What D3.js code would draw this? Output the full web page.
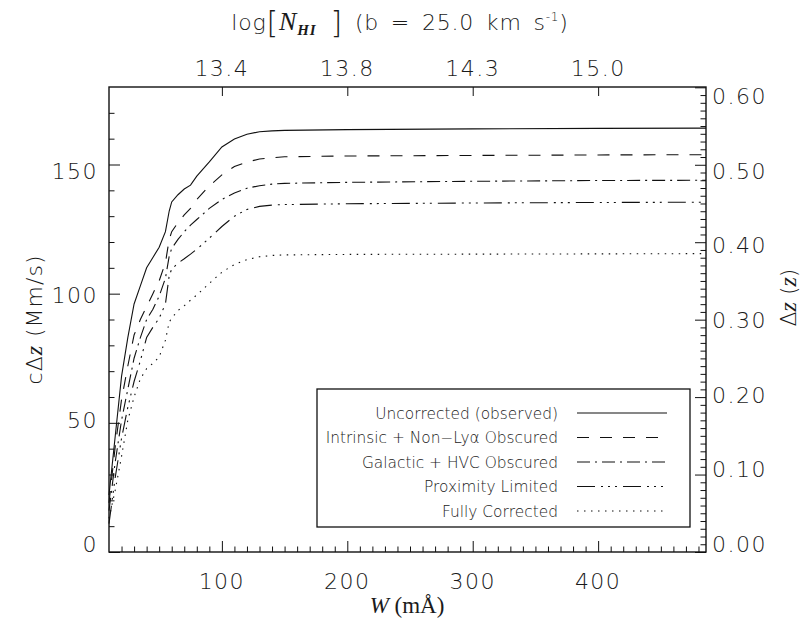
<!DOCTYPE html>
<html><head><meta charset="utf-8">
<script src="https://cdn.jsdelivr.net/npm/d3@7"></script>
<style>
body{margin:0;background:#fff;}
svg text{font-family:"DejaVu Sans",sans-serif;font-weight:200;fill:#1a1a1a;}
.serif{font-family:"Liberation Serif","DejaVu Serif",serif !important;}
</style></head><body>
<svg id="chart" width="807" height="632"></svg>
<script>
// ---- data ----
const widths = [10,15,20,25,30,35,40,45,50,55,58,60,65,70,75,80,90,100,110,120,130,140,150,200,300,400,486];
const uncorrected = [22,45,68,83,96,103,110,114,118,124,132,135.5,138.3,140.5,142,145.5,151,156.8,159.9,161.7,162.7,163,163.2,163.5,163.8,164,164.1];
const intrinsic  = [19,41,59,72,84,90,95,100,105,112,121,124,127.5,130.5,133,136.5,141.7,146,149.2,151,152.1,152.6,153,153.3,153.5,153.7,153.8];
const galactic   = [16,35,51,63,75,83,90,94,99,106,114.5,117.5,121,124,126.5,128.7,133,136.5,139,140.8,141.8,142.4,142.7,143.1,143.5,143.8,143.9];
const proximity  = [11,29,44,56,66,74,83,87,90.5,96,107,109.5,111.8,113.5,115.3,117.2,121.5,126,130,132.6,133.8,134.3,134.5,134.8,135.1,135.3,135.4];
const corrected  = [13,24,37,51,60,67,71,73,75.5,82,89,90.5,93.5,95.3,97.5,99.5,104,108.3,111.3,113.2,114.3,114.8,115,115.2,115.3,115.4,115.5];
const seriesNames = ["Uncorrected (observed)","Intrinsic + Non\u2212Ly\u03b1 Obscured","Galactic + HVC Obscured","Proximity Limited","Fully Corrected"];
const seriesDash = ["none","12,11","13,5,2,5","18,6,2,5,2,5,2,6","1.5,5.5"];
const bottomTicks = [100,200,300,400];
const topTickLabels = ["13.4","13.8","14.3","15.0"];
const leftTicks = [0,50,100,150];
const rightTicks = [0,0.1,0.2,0.3,0.4,0.5,0.6];
const C_LIGHT = 299.792458; // Mm/s

const series = [uncorrected,intrinsic,galactic,proximity,corrected];

// ---- layout ----
const L=109,R=706,T=87,B=552;
const svg=d3.select("#chart");
const x=d3.scaleLinear().domain([10,486]).range([L,R]);
const y=d3.scaleLinear().domain([0,180]).range([B,T]);
const yR=d3.scaleLinear().domain([0,180/C_LIGHT]).range([B,T]);
const yLab=d3.scaleLinear().domain([0,180]).range([544,96]);
const yLabR=d3.scaleLinear().domain([0,0.6]).range([544,96]);

const ink="#111";
function styleAxis(g){g.select(".domain").remove();g.selectAll("line").attr("stroke",ink).attr("stroke-width",1);g.selectAll("text").remove();}

const minorX=d3.range(20,486,10).filter(v=>v%100!==0);
svg.append("g").attr("transform",`translate(0,${B})`).call(d3.axisBottom(x).tickValues(bottomTicks).tickSize(-11)).call(styleAxis);
svg.append("g").attr("transform",`translate(0,${B})`).call(d3.axisBottom(x).tickValues(minorX).tickSize(-5.5)).call(styleAxis);
svg.append("g").attr("transform",`translate(0,${T})`).call(d3.axisTop(x).tickValues(bottomTicks).tickSize(-9)).call(styleAxis);

const minorY=d3.range(10,180,10).filter(v=>v%50!==0);
svg.append("g").attr("transform",`translate(${L},0)`).call(d3.axisLeft(y).tickValues(leftTicks).tickSize(-11)).call(styleAxis);
svg.append("g").attr("transform",`translate(${L},0)`).call(d3.axisLeft(y).tickValues(minorY).tickSize(-5.5)).call(styleAxis);

const minorR=d3.range(1,60).map(i=>i/100).filter(v=>Math.round(v*100)%10!==0);
svg.append("g").attr("transform",`translate(${R},0)`).call(d3.axisRight(yR).tickValues(rightTicks).tickSize(-11)).call(styleAxis);
svg.append("g").attr("transform",`translate(${R},0)`).call(d3.axisRight(yR).tickValues(minorR).tickSize(-5.5)).call(styleAxis);

svg.append("rect").attr("x",L).attr("y",T).attr("width",R-L).attr("height",B-T)
  .attr("fill","none").attr("stroke",ink).attr("stroke-width",1.4);

// tick labels
const fs=22, ls=1.5;
svg.selectAll(".bl").data(bottomTicks).enter().append("text").attr("x",d=>x(d)).attr("y",589)
  .attr("text-anchor","middle").attr("font-size",fs).attr("letter-spacing",ls).text(d=>d);
svg.selectAll(".tl").data(bottomTicks).enter().append("text").attr("x",d=>x(d)).attr("y",76)
  .attr("text-anchor","middle").attr("font-size",fs).attr("letter-spacing",ls).text((d,i)=>topTickLabels[i]);
svg.selectAll(".ll").data(leftTicks).enter().append("text").attr("x",98).attr("y",d=>yLab(d)+8)
  .attr("text-anchor","end").attr("font-size",fs).attr("letter-spacing",ls).text(d=>d);
svg.selectAll(".rl").data(rightTicks).enter().append("text").attr("x",712).attr("y",d=>yLabR(d)+8)
  .attr("text-anchor","start").attr("font-size",fs).attr("letter-spacing",ls).text(d=>d.toFixed(2));

// curves
const line=d3.line().x((d,i)=>x(widths[i])).y(d=>y(d));
series.forEach((s,k)=>{
  svg.append("path").datum(s).attr("d",line).attr("fill","none").attr("stroke",ink)
    .attr("stroke-width",1.1).attr("stroke-dasharray",seriesDash[k]==="none"?null:seriesDash[k]);
});

// legend
const lg={x0:317,y0:389,x1:690,y1:527,row0:413,step:24.5};
svg.append("rect").attr("x",lg.x0).attr("y",lg.y0).attr("width",lg.x1-lg.x0).attr("height",lg.y1-lg.y0)
  .attr("fill","#fff").attr("stroke",ink).attr("stroke-width",1.3);
seriesNames.forEach((n,k)=>{
  const yy=lg.row0+k*lg.step;
  svg.append("text").attr("x",558).attr("y",yy+5.5).attr("text-anchor","end").attr("font-size",15.4).text(n);
  svg.append("line").attr("x1",577).attr("x2",667).attr("y1",yy).attr("y2",yy).attr("stroke",ink)
    .attr("stroke-width",1.1).attr("stroke-dasharray",seriesDash[k]==="none"?null:seriesDash[k]);
});

// axis titles
const topTitle=svg.append("text").attr("x",400).attr("y",30).attr("text-anchor","middle").attr("font-size",22).attr("letter-spacing",0.8).attr("word-spacing",4);
topTitle.append("tspan").text("log");
topTitle.append("tspan").attr("font-size",30).attr("dy",3).text("[");
topTitle.append("tspan").attr("class","serif").attr("font-style","italic").attr("font-weight",400).attr("font-size",26).attr("dy",-3).text("N");
topTitle.append("tspan").attr("class","serif").attr("font-style","italic").attr("font-weight",700).attr("font-size",15).attr("dy",5).text("HI");
topTitle.append("tspan").attr("font-size",30).attr("dy",-2).text(" ]");
topTitle.append("tspan").attr("dy",-3).text(" (b = 25.0 km s");
topTitle.append("tspan").attr("font-size",12).attr("dy",-9).text("-1");
topTitle.append("tspan").attr("dy",9).text(")");

const xl=svg.append("text").attr("x",407).attr("y",613).attr("text-anchor","middle").attr("font-size",23);
xl.append("tspan").attr("class","serif").attr("font-style","italic").attr("font-weight",400).text("W");
xl.append("tspan").attr("class","serif").attr("font-weight",400).text(" (mÅ)");

const ylL=svg.append("text").attr("transform",`translate(42,${(T+B)/2}) rotate(-90)`).attr("text-anchor","middle").attr("font-size",22).attr("letter-spacing",1);
ylL.append("tspan").text("c\u0394");
ylL.append("tspan").attr("class","serif").attr("font-style","italic").attr("font-weight",400).attr("font-size",24).text("z");
ylL.append("tspan").text(" (Mm/s)");

const ylR=svg.append("text").attr("transform",`translate(796,${(T+B)/2-22}) rotate(-90)`).attr("text-anchor","middle").attr("font-size",22);
ylR.append("tspan").text("\u0394");
ylR.append("tspan").attr("class","serif").attr("font-style","italic").attr("font-weight",400).attr("font-size",24).text("z");
ylR.append("tspan").attr("font-weight",200).text(" (");
ylR.append("tspan").attr("class","serif").attr("font-style","italic").attr("font-weight",400).attr("font-size",24).text("z");
ylR.append("tspan").attr("font-weight",200).text(")");
</script>
</body></html>
